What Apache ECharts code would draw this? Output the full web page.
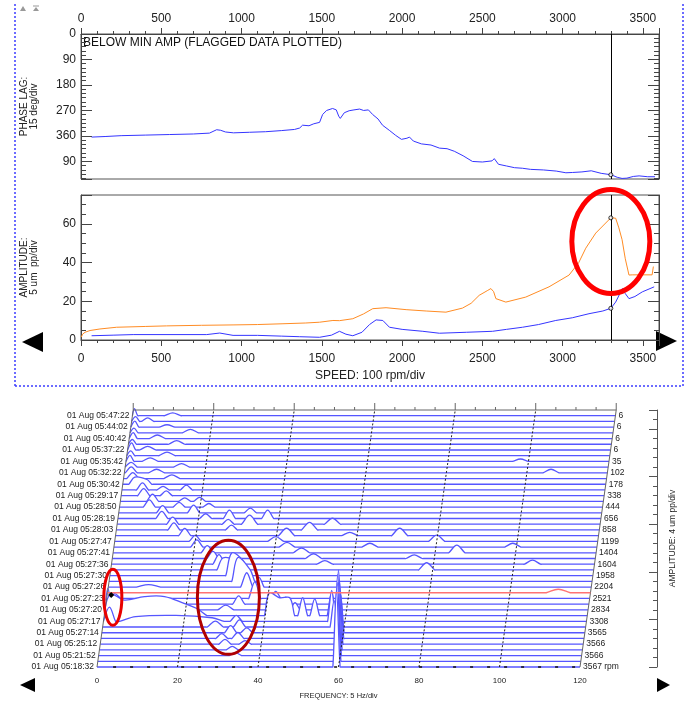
<!DOCTYPE html>
<html>
<head>
<meta charset="utf-8">
<script src="https://cdn.jsdelivr.net/npm/echarts/dist/echarts.min.js"></script>
<style>
  html, body { margin: 0; padding: 0; background: #fff; }
  #chart { width: 691px; height: 707px; }
</style>
</head>
<body>
<div id="chart"></div>
<script>
var FONT = '"Liberation Sans", Arial, sans-serif';

// ---- top panels: speed (rpm) vs phase / amplitude ----
var phaseLag = [
  [66,364],[150,362],[250,359],[400,357],[550,355],[700,353],[800,350],[845,338],[870,340],[900,346],
  [950,349],[1050,347],[1150,345],[1250,341],[1330,337],[1362,332],[1380,322],[1420,324],[1450,317],[1486,312],
  [1505,284],[1530,270],[1567,263],[1590,268],[1605,290],[1615,298],[1640,278],[1670,271],[1700,268],[1735,265],
  [1760,270],[1790,268],[1816,284],[1850,300],[1878,322],[1920,340],[1960,358],[1996,372],[2030,368],[2046,364],
  [2070,378],[2120,388],[2180,392],[2233,403],[2280,405],[2325,414],[2380,430],[2438,450],[2500,452],[2560,448],
  [2574,440],[2600,460],[2650,466],[2700,472],[2749,474],[2800,478],[2880,480],[2960,484],[3020,490],[3060,489],
  [3120,487],[3178,483],[3240,492],[3302,497],[3340,506],[3370,510],[3400,509],[3440,503],[3476,501],[3530,504],[3575,504]
];
var ampOrange = [
  [2,1.5],[10,3],[25,4],[56,4.9],[118,5.7],[222,6.6],[400,7.0],[533,7.3],[750,7.6],[947,7.8],
  [1100,8.0],[1258,8.4],[1400,8.8],[1486,9.2],[1569,10.1],[1610,10],[1693,11],[1760,13.5],[1817,16.2],[1900,16.7],
  [2025,15.7],[2150,15],[2273,14.4],[2376,16.5],[2430,19],[2480,23.1],[2530,25.5],[2553,26.6],[2570,25],[2584,21.4],
  [2646,19.6],[2770,22.2],[2915,27.5],[3040,33.6],[3100,40],[3144,47.5],[3206,55.3],[3300,63.2],[3330,63],[3350,58],
  [3370,51.9],[3390,42],[3413,33.6],[3433,33.7],[3557,33.7],[3565,38]
];
var ampBlue = [
  [66,2.2],[200,2.5],[325,2.8],[783,2.8],[864,3.6],[947,2.4],[1100,2.4],[1250,2.0],[1362,1.7],[1486,1.4],
  [1560,2.5],[1610,4.5],[1650,3],[1693,2.2],[1750,4],[1797,8],[1838,10.4],[1880,10.1],[1921,6.6],[2000,5.5],
  [2129,4.5],[2232,3.5],[2400,4],[2563,4.5],[2650,5.5],[2750,6.6],[2850,8],[2957,10.1],[3060,11.5],[3164,13.6],
  [3250,15],[3300,16.4],[3330,19.6],[3372,26.6],[3390,24],[3413,21.4],[3450,22.5],[3496,24.9],[3570,27.5]
];
var cursorRpm = 3300;
var cursorPhase = 497;
var cursorOrange = 63.2;
var cursorBlue = 16.4;

// ---- waterfall: labels top to bottom ----
var timeLabels = [
  '01 Aug 05:47:22','01 Aug 05:44:02','01 Aug 05:40:42','01 Aug 05:37:22','01 Aug 05:35:42',
  '01 Aug 05:32:22','01 Aug 05:30:42','01 Aug 05:29:17','01 Aug 05:28:50','01 Aug 05:28:19',
  '01 Aug 05:28:03','01 Aug 05:27:47','01 Aug 05:27:41','01 Aug 05:27:36','01 Aug 05:27:30',
  '01 Aug 05:27:26','01 Aug 05:27:23','01 Aug 05:27:20','01 Aug 05:27:17','01 Aug 05:27:14',
  '01 Aug 05:25:12','01 Aug 05:21:52','01 Aug 05:18:32'
];
var rpmLabels = ['6','6','6','6','35','102','178','338','444','656','858','1199','1404','1604',
  '1958','2204','2521','2834','3308','3565','3566','3566','3567 rpm'];
var freqGrid = [20, 40, 60, 80, 100];
var redRow = 13;

// spectrum peaks per row, front (0) to back (44): [freq Hz, amp um, half width Hz]
var wfPeaks = [
  [[59.5,32,0.9]],
  [[59.5,33,0.9]],
  [[34,1.2,1.5],[59.4,34,0.9]],
  [[33,1.5,1.5],[59.4,33.5,0.9]],
  [[31,2,1.5],[36,1.5,1.5],[59.4,27,0.9]],
  [[30,2,1.5],[34,2.5,1.5],[59.4,20,0.9]],
  [[32,3,1.5],[36,2,1.5],[59.3,16,0.9]],
  [[28,2.5,2],[34,3,1.5],[57.5,11,1]],
  [[1.5,6,1.5],[8,2,4],[18,2.5,6],[27,1.5,3],[33,2.5,1.5],[56.7,13,1]],
  [[1.5,9,1.5],[5,6.5,2],[10,8,3],[15,8,3],[20,5,2.5],[23,3,2.5],[41,9.5,1.2],[43.6,7.5,1.2],[46.1,7.5,1.2],[49.3,7.5,1.2],[52.3,7,1.2],[56.5,10,1.1]],
  [[0.7,9,1],[30,2,2],[47.2,3,1.3]],
  [[2,3,1.5],[33,3.5,1.5],[44.7,3,1.3]],
  [[2,2,1.5],[36.8,7,1.5],[42,3,1.3]],
  [[112,1.5,3]],
  [[10,1,3],[34.4,6,1.5],[37.5,4,1.2]],
  [[32,10,1.5],[35,5,1.2]],
  [[30.3,9.5,1.5],[33.2,6,1.2]],
  [[27.9,5,1.5],[30.8,4,1.2],[78.5,3,2]],
  [[26.7,4,1.5],[53,1.5,2],[104.6,1.7,2]],
  [[25,3,1.5],[50,2,2],[75,1.5,2]],
  [[23.4,3,1.5],[46.8,2,2],[85.4,3.2,2]],
  [[20.6,3,1.5],[43,2,2],[63.6,1.6,2],[99.1,1.6,2]],
  [[20,2.5,1.5],[40,2,2],[80,2.6,2]],
  [[17.2,3,1.5],[42.5,3.1,2],[58.2,1.4,2],[70.6,3.1,2]],
  [[14.3,3,1.5],[28.6,2,1.5],[48,3.2,2]],
  [[13.8,3,1.5],[27.6,2,1.5],[32.9,3.8,2],[53.5,2.5,2]],
  [[10.9,3,1.5],[21.8,2,1.5],[27.7,3.5,1.5],[37.2,3.5,1.5]],
  [[10.9,3,1.5],[18.6,3.2,1.5],[32.7,2,1.5]],
  [[7.4,3,1.5],[14.8,2,1.5],[22.2,1.5,1.5]],
  [[8,3,1.5],[16,1.5,1.5],[19.7,1.7,1.5]],
  [[5.6,3,1.5],[11.2,2,1.5]],
  [[5.1,3,1.5],[10.2,1.5,1.5],[16,2,1.5]],
  [[3,3,1.5],[6,2,1.2]],
  [[2.3,2.5,1.5],[12,1.5,2]],
  [[1.7,2.5,1.5],[8,1.5,2],[106,1.5,2]],
  [[1.5,2,1.5],[14,1.5,2]],
  [[1,2.5,1],[6,1.5,2],[98,1,2]],
  [[1,2,1],[10,1.5,2]],
  [[1,3,1],[5,1.5,2]],
  [[1,2,1],[12,1.5,2]],
  [[1,2.5,1],[7,1.5,2]],
  [[1,2,1],[15,1.5,2]],
  [[1,2.5,1],[9,1,2]],
  [[1,2,1],[4,1.5,1.5]],
  [[0.5,3,0.8],[10,1.2,2]]
];

// each row is lifted by ROW_A um and slid by ROW_F Hz (oblique view)
var ROW_A = 2.4;
var ROW_F = 0.2;
var WF_TOP = 108;
var SMOOTH = 0.35;
var PAD = 0.3;

function buildRow(k) {
  var pts = [[0, 0]];
  var tail = 0;
  wfPeaks[k].forEach(function (p) {
    var f = p[0], a = p[1], w = p[2];
    var last = pts[pts.length - 1][0];
    if (f - w > last) {
      if (f - w - PAD > last) pts.push([f - w - PAD, 0]);
      pts.push([f - w, 0]);
    } else {
      pts.splice(pts.length - tail, tail);
    }
    pts.push([f, a]);
    pts.push([f + w, 0]);
    pts.push([f + w + PAD, 0]);
    tail = 2;
  });
  pts.push([120, 0]);
  return pts;
}

function rowPixels(api, k) {
  return buildRow(k).map(function (p) {
    return api.coord([p[0] + k * ROW_F, p[1] + k * ROW_A]);
  });
}

var backToFront = [];
for (var k = wfPeaks.length - 1; k >= 0; k--) if (k !== redRow) backToFront.push([k]);

var tickColor = '#444';
var labelStyle = { fontSize: 12, color: '#222', fontFamily: FONT, formatter: function (v) { return String(v); } };

function speedAxis(grid, pos) {
  return {
    gridIndex: grid, type: 'value', position: pos, min: 0, max: 3600, interval: 500,
    axisLine: { onZero: false, lineStyle: { color: tickColor } },
    axisTick: { length: 6, lineStyle: { color: tickColor } },
    minorTick: { show: true, splitNumber: 5, length: 3, lineStyle: { color: tickColor } },
    axisLabel: Object.assign({}, labelStyle, { showMaxLabel: false, margin: pos === 'top' ? 9 : 13 }),
    splitLine: { show: false }, minorSplitLine: { show: false }
  };
}

function sideAxis(grid, pos, opt) {
  return Object.assign({
    gridIndex: grid, type: 'value', position: pos,
    axisLine: { show: true, onZero: false, lineStyle: { color: tickColor } },
    axisTick: { inside: true, length: 11, lineStyle: { color: tickColor } },
    minorTick: { show: true, length: 5, lineStyle: { color: tickColor } },
    axisLabel: pos === 'left' ? Object.assign({}, labelStyle, { margin: 5, showMaxLabel: false }) : { show: false },
    splitLine: { show: false }, minorSplitLine: { show: false },
    nameLocation: 'middle', nameRotate: 90, nameMoveOverlap: false,
    nameTextStyle: { fontSize: 10, lineHeight: 10, color: '#222', fontFamily: FONT }
  }, opt);
}

var phaseOpt = { min: 0, max: 512, interval: 90, inverse: true };
var ampOpt = { min: 0, max: 75, interval: 20 };

var chart = echarts.init(document.getElementById('chart'));

var option = {
  animation: false,
  backgroundColor: '#fff',
  textStyle: { fontFamily: FONT },
  grid: [
    { left: 81, top: 34, width: 578, height: 145, show: true, borderColor: '#555', borderWidth: 1, outerBoundsMode: 'none' },
    { left: 81, top: 195, width: 578, height: 145, show: true, borderColor: '#555', borderWidth: 1, outerBoundsMode: 'none' },
    { left: 97, top: 410, width: 483, height: 257, show: false, outerBoundsMode: 'none' }
  ],
  xAxis: [
    speedAxis(0, 'top'),
    Object.assign(speedAxis(1, 'bottom'), {
      name: 'SPEED: 100 rpm/div', nameLocation: 'middle', nameGap: 30, nameMoveOverlap: false,
      nameTextStyle: { fontSize: 12, color: '#222', fontFamily: FONT }
    }),
    {
      gridIndex: 2, type: 'value', min: 0, max: 120, interval: 20,
      axisLine: { show: false, onZero: false }, axisTick: { show: false }, splitLine: { show: false },
      axisLabel: { fontSize: 8, color: '#222', margin: 10, fontFamily: FONT },
      name: 'FREQUENCY: 5 Hz/div', nameLocation: 'middle', nameGap: 25, nameMoveOverlap: false,
      nameTextStyle: { fontSize: 7.5, color: '#222', fontFamily: FONT }
    }
  ],
  yAxis: [
    sideAxis(0, 'left', Object.assign({
      name: 'PHASE LAG:\n15 deg/div', nameGap: 42,
      minorTick: { show: true, splitNumber: 6, length: 5, lineStyle: { color: tickColor } },
      axisLabel: Object.assign({}, labelStyle, { margin: 5, showMaxLabel: false, formatter: function (v) { return String(v > 360 ? v - 360 : v); } })
    }, phaseOpt)),
    sideAxis(0, 'right', Object.assign({
      minorTick: { show: true, splitNumber: 6, length: 5, lineStyle: { color: tickColor } }
    }, phaseOpt)),
    sideAxis(1, 'left', Object.assign({
      name: 'AMPLITUDE:\n5 um  pp/div', nameGap: 42,
      minorTick: { show: true, splitNumber: 4, length: 5, lineStyle: { color: tickColor } }
    }, ampOpt)),
    sideAxis(1, 'right', Object.assign({
      minorTick: { show: true, splitNumber: 4, length: 5, lineStyle: { color: tickColor } }
    }, ampOpt)),
    {
      gridIndex: 2, type: 'value', position: 'right', offset: 77, min: 0, max: WF_TOP, interval: 20,
      axisLine: { show: true, onZero: false, lineStyle: { color: '#555' } },
      axisTick: { inside: true, length: 8, lineStyle: { color: '#555' } },
      minorTick: { show: true, splitNumber: 5, length: 4, lineStyle: { color: '#555' } },
      axisLabel: { show: false }, splitLine: { show: false },
      name: 'AMPLITUDE: 4 um pp/div', nameLocation: 'middle', nameRotate: 90, nameGap: 11, nameMoveOverlap: false,
      nameTextStyle: { fontSize: 8.5, color: '#222', fontFamily: FONT }
    }
  ],
  series: [
    {
      type: 'line', xAxisIndex: 0, yAxisIndex: 0, data: phaseLag, showSymbol: false,
      lineStyle: { color: '#3535ff', width: 1 }, z: 3,
      markLine: {
        silent: true, symbol: 'none', label: { show: false },
        lineStyle: { color: '#000', width: 1, type: 'solid' }, data: [{ xAxis: cursorRpm }]
      }
    },
    {
      type: 'line', xAxisIndex: 1, yAxisIndex: 2, data: ampOrange, showSymbol: false,
      lineStyle: { color: '#ff8c24', width: 1 }, z: 3,
      markLine: {
        silent: true, symbol: 'none', label: { show: false },
        lineStyle: { color: '#000', width: 1, type: 'solid' }, data: [{ xAxis: cursorRpm }]
      }
    },
    {
      type: 'line', xAxisIndex: 1, yAxisIndex: 2, data: ampBlue, showSymbol: false,
      lineStyle: { color: '#3535ff', width: 1 }, z: 3
    },
    {
      type: 'scatter', xAxisIndex: 0, yAxisIndex: 0, data: [[cursorRpm, cursorPhase]],
      symbol: 'circle', symbolSize: 4, itemStyle: { color: '#fff', borderColor: '#000', borderWidth: 1 }, z: 5
    },
    {
      type: 'scatter', xAxisIndex: 1, yAxisIndex: 2, data: [[cursorRpm, cursorOrange], [cursorRpm, cursorBlue]],
      symbol: 'circle', symbolSize: 4, itemStyle: { color: '#fff', borderColor: '#000', borderWidth: 1 }, z: 5
    },
    {
      // waterfall rows, drawn back to front with white fill for hidden lines
      type: 'custom', xAxisIndex: 2, yAxisIndex: 4, z: 2, silent: true,
      data: backToFront,
      renderItem: function (params, api) {
        var k = api.value(0);
        var pts = rowPixels(api, k);
        var children = [
          { type: 'polygon', shape: { points: pts, smooth: SMOOTH }, style: { fill: '#fff' } },
          { type: 'polyline', shape: { points: pts, smooth: SMOOTH }, style: { stroke: '#5656ff', lineWidth: 1.3, fill: null } }
        ];
        if (k % 2 === 0) {
          var idx = timeLabels.length - 1 - k / 2;
          var L = api.coord([k * ROW_F, k * ROW_A]);
          var R = api.coord([120 + k * ROW_F, k * ROW_A]);
          children.push({ type: 'text', x: L[0] - 3, y: L[1],
            style: { text: timeLabels[idx], align: 'right', verticalAlign: 'middle', fontSize: 8.5, fontFamily: FONT, fill: '#222' } });
          children.push({ type: 'text', x: R[0] + 3, y: R[1],
            style: { text: rpmLabels[idx], align: 'left', verticalAlign: 'middle', fontSize: 8.5, fontFamily: FONT, fill: '#222' } });
        }
        return { type: 'group', children: children };
      }
    },
    {
      // waterfall frame: slanted edges, back axis and dotted frequency lines
      type: 'custom', xAxisIndex: 2, yAxisIndex: 4, z: 3, silent: true,
      data: [[0]],
      renderItem: function (params, api) {
        var sh = WF_TOP / ROW_A * ROW_F;
        var seg = function (p, q, style) {
          return { type: 'line', shape: { x1: p[0], y1: p[1], x2: q[0], y2: q[1] }, style: style };
        };
        var solid = { stroke: '#666', lineWidth: 1 };
        var ch = [];
        ch.push(seg(api.coord([0, 0]), api.coord([sh, WF_TOP]), solid));
        ch.push(seg(api.coord([120, 0]), api.coord([120 + sh, WF_TOP]), solid));
        ch.push(seg(api.coord([sh, WF_TOP]), api.coord([120 + sh, WF_TOP]), solid));
        for (var f = 0; f <= 120; f += 5) {
          var p = api.coord([f + sh, WF_TOP]);
          ch.push(seg(p, [p[0], p[1] - (f % 20 === 0 ? 7 : 3)], solid));
        }
        freqGrid.forEach(function (g) {
          ch.push(seg(api.coord([g, 0]), api.coord([g + sh, WF_TOP]), { stroke: '#222', lineWidth: 1, lineDash: [2, 2] }));
        });
        ch.push(seg(api.coord([4, 0]), api.coord([120, 0]), { stroke: '#111', lineWidth: 1.3, lineDash: [3, 14] }));
        return { type: 'group', children: ch };
      }
    },
    {
      // highlighted row
      type: 'custom', xAxisIndex: 2, yAxisIndex: 4, z: 4, silent: true,
      data: [[redRow]],
      renderItem: function (params, api) {
        var pts = rowPixels(api, api.value(0));
        return { type: 'polyline', shape: { points: pts, smooth: SMOOTH }, style: { stroke: '#ff7373', lineWidth: 1.4, fill: null } };
      }
    }
  ]
};

chart.setOption(option);

// annotations placed from the axes
var ellTop = chart.convertToPixel({ seriesIndex: 1 }, [cursorRpm, 51]);
var wfPx = function (f, row) { return chart.convertToPixel({ seriesIndex: 5 }, [f + row * ROW_F, row * ROW_A]); };
var ellA = wfPx(1.5, 12.2);
var ellB = wfPx(30.2, 12.2);
var spot = wfPx(1, 12.6);

var dash = { stroke: '#3c3cff', lineWidth: 1.5, lineDash: [2, 2] };
chart.setOption({
  graphic: [
    { type: 'line', shape: { x1: 15, y1: 4, x2: 15, y2: 386 }, style: dash },
    { type: 'line', shape: { x1: 683, y1: 4, x2: 683, y2: 386 }, style: dash },
    { type: 'line', shape: { x1: 15, y1: 386, x2: 683, y2: 386 }, style: dash },
    { type: 'polygon', shape: { points: [[20, 11], [23, 6], [26, 11]] }, style: { fill: '#999' } },
    { type: 'polygon', shape: { points: [[33, 11], [36, 7], [39, 11]] }, style: { fill: '#999' } },
    { type: 'line', shape: { x1: 33, y1: 6, x2: 39, y2: 6 }, style: { stroke: '#999', lineWidth: 1 } },
    { type: 'text', left: 83, top: 37, style: { text: 'BELOW MIN AMP (FLAGGED DATA PLOTTED)', fontSize: 12, fontFamily: FONT, fill: '#111' } },
    { type: 'polygon', shape: { points: [[22, 342], [43, 332], [43, 352]] }, style: { fill: '#000' } },
    { type: 'polygon', shape: { points: [[677, 341], [656, 331], [656, 351]] }, style: { fill: '#000' } },
    { type: 'polygon', shape: { points: [[20, 685], [35, 678], [35, 692]] }, style: { fill: '#000' } },
    { type: 'polygon', shape: { points: [[670, 685], [657, 678], [657, 692]] }, style: { fill: '#000' } },
    { type: 'ellipse', z: 10, shape: { cx: ellTop[0], cy: ellTop[1], rx: 39, ry: 52 }, style: { fill: null, stroke: '#ff0000', lineWidth: 5 } },
    { type: 'ellipse', z: 10, shape: { cx: ellA[0], cy: ellA[1], rx: 9, ry: 28 }, style: { fill: null, stroke: '#e80000', lineWidth: 3 } },
    { type: 'ellipse', z: 10, shape: { cx: ellB[0], cy: ellB[1], rx: 31, ry: 57 }, style: { fill: null, stroke: '#b00000', lineWidth: 3 } },
    { type: 'polygon', z: 10, shape: { points: [[spot[0] - 3, spot[1]], [spot[0], spot[1] - 3], [spot[0] + 3, spot[1]], [spot[0], spot[1] + 3]] }, style: { fill: '#000' } }
  ]
});
</script>
</body>
</html>
